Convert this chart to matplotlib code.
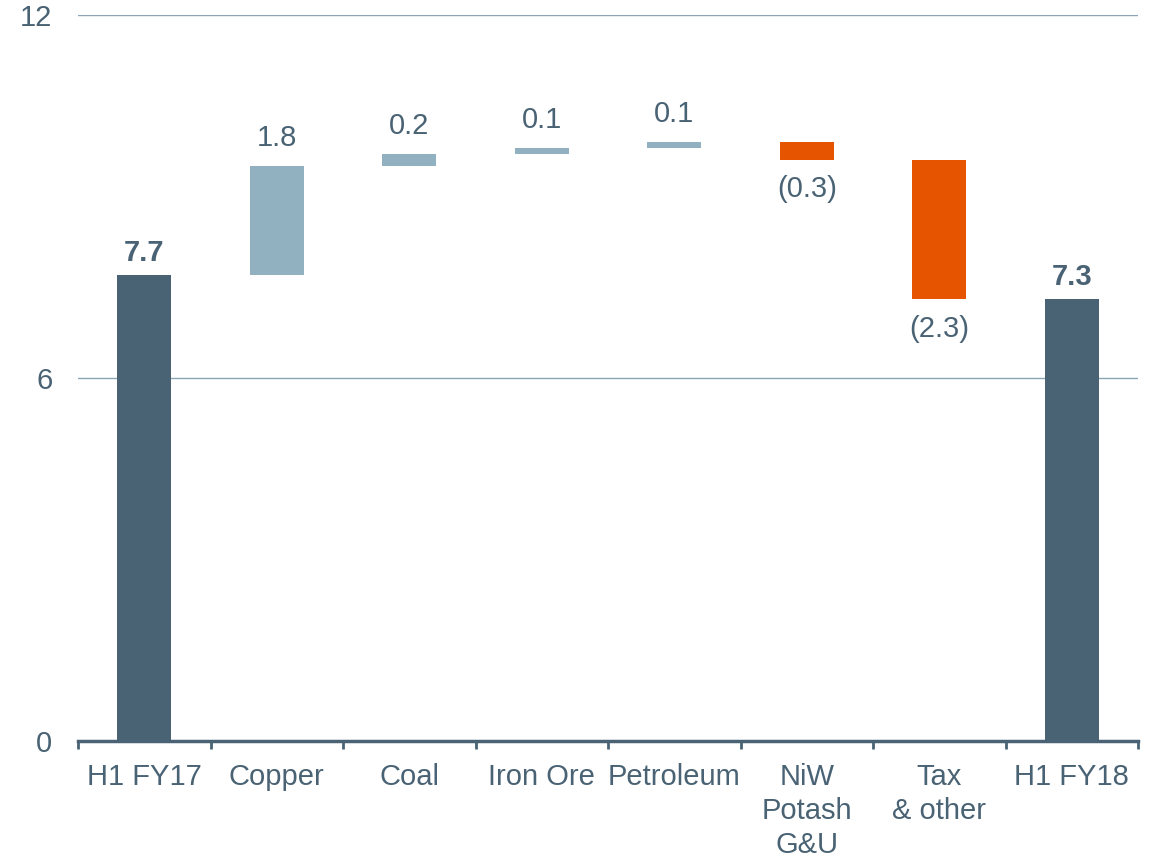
import numpy as np
import matplotlib
matplotlib.use("Agg")
import matplotlib.pyplot as plt

plt.rcParams["font.family"] = ["Liberation Sans", "DejaVu Sans"]

categories = ["H1 FY17", "Copper", "Coal", "Iron Ore", "Petroleum",
              "NiW\nPotash\nG&U", "Tax\n& other", "H1 FY18"]
values = [7.7, 1.8, 0.2, 0.1, 0.1, -0.3, -2.3, 7.3]
kinds = ["total", "delta", "delta", "delta", "delta", "delta", "delta", "total"]

dark = "#4a6374"
light = "#92b1c0"
orange = "#e65400"
grid_c = "#8aa5b7"

fig = plt.figure(figsize=(11.52, 8.57), dpi=100)
ax = fig.add_axes([78 / 1152, 116 / 857, 1060 / 1152, 726 / 857])

x = np.arange(len(categories))
bottoms = []
heights = []
colors = []
run = 0.0
for v, k in zip(values, kinds):
    if k == "total":
        bottoms.append(0)
        heights.append(v)
        colors.append(dark)
        run = v
    else:
        if v >= 0:
            bottoms.append(run)
            colors.append(light)
        else:
            bottoms.append(run + v)
            colors.append(orange)
        heights.append(abs(v))
        run += v

ax.bar(x, heights, bottom=bottoms, width=0.41, color=colors, zorder=3)

fs = 21
for xi, v, k, b, h in zip(x, values, kinds, bottoms, heights):
    if k == "total":
        ax.annotate(f"{v:.1f}", (xi, b + h), xytext=(0, 6), textcoords="offset points",
                    ha="center", va="bottom", fontsize=fs, fontweight="bold", color=dark)
    elif v >= 0:
        ax.annotate(f"{v:.1f}", (xi, b + h), xytext=(0, 10), textcoords="offset points",
                    ha="center", va="bottom", fontsize=fs, color=dark)
    else:
        ax.annotate(f"({abs(v):.1f})", (xi, b), xytext=(0, -11), textcoords="offset points",
                    ha="center", va="top", fontsize=fs, color=dark)

ax.set_xlim(-0.5, len(categories) - 0.5)
ax.set_ylim(0, 12)
ax.set_yticks([0, 6, 12])
ax.set_yticklabels(["0", "6", "12"])
for yv in [6, 12]:
    ax.axhline(yv, color=grid_c, linewidth=1, zorder=1)

for s in ["top", "right", "left"]:
    ax.spines[s].set_visible(False)
ax.spines["bottom"].set_color(dark)
ax.spines["bottom"].set_linewidth(2.5)
ax.spines["bottom"].set_zorder(4)

ax.set_xticks(x)
ax.set_xticklabels(categories, fontsize=fs, color=dark, linespacing=1.27)
ax.tick_params(axis="x", length=0, pad=16)
ax.set_xticks(np.arange(-0.5, len(categories), 1), minor=True)
ax.tick_params(axis="x", which="minor", length=6, width=2, color=dark, direction="out")
ax.tick_params(axis="y", length=0, labelsize=fs, labelcolor=dark, pad=18.5)

fig.savefig("out.png", dpi=100)
